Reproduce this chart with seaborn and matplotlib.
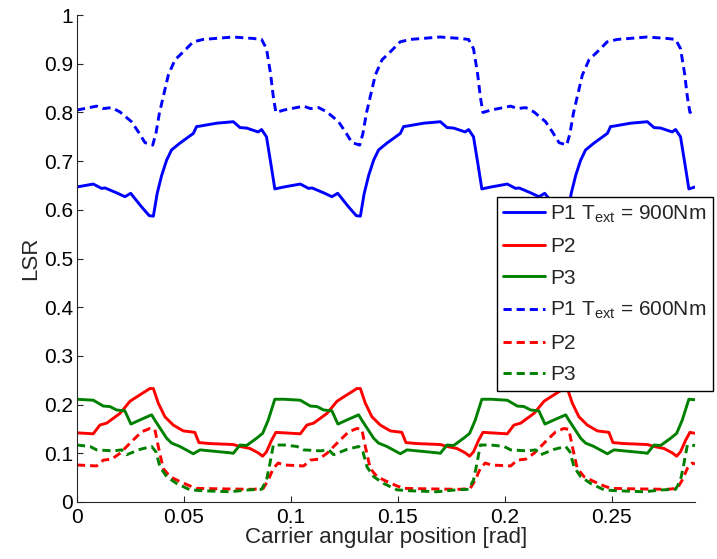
import matplotlib
matplotlib.use("Agg")
import matplotlib.pyplot as plt
import seaborn as sns
from matplotlib.ticker import FormatStrFormatter

# Load sharing ratio (LSR) of planets P1..P3 versus carrier angle, two torque levels
x_p1_900 = [0, .0076, .0115, .0131, .0185, .0224, .0251, .0302, .0338, .0357, .0375, .0396, .0419, .0442,
            .0481, .0544, .0559, .0575, .0653, .0731, .0762, .0793, .0847, .0863, .0886, .0910, .0925,
            .0968, .1044, .1083, .1099, .1153, .1192, .1219, .127, .1306, .1325, .1343, .1364, .1387, .141,
            .1449, .1512, .1527, .1543, .1621, .1699, .173, .1761, .1815, .1831, .1854, .1878, .1893,
            .1936, .2012, .2051, .2067, .2121, .216, .2187, .2238, .2274, .2293, .2311, .2332, .2355, .2378,
            .2417, .248, .2495, .2511, .2589, .2667, .2698, .2729, .2783, .2799, .2822, .2846, .2861, .289]
y_p1_900 = [.647, .653, .644, .645, .635, .627, .634, .606, .588, .587, .634, .671, .702, .723,
            .737, .757, .771, .772, .778, .781, .769, .768, .760, .765, .750, .685, .643,
            .647, .653, .644, .645, .635, .627, .634, .606, .588, .587, .634, .671, .702, .723,
            .737, .757, .771, .772, .778, .781, .769, .768, .760, .765, .750, .685, .643,
            .647, .653, .644, .645, .635, .627, .634, .606, .588, .587, .634, .671, .702, .723,
            .737, .757, .771, .772, .778, .781, .769, .768, .760, .765, .750, .685, .643, .647]

x_p2_900 = [0, .0076, .0107, .0139, .0201, .0248, .0294, .0341, .0357, .038, .0411, .045, .0497, .0551,
            .057, .0621, .0731, .0762, .0808, .0847, .0868, .0886, .091, .093,
            .0968, .1044, .1075, .1107, .1169, .1216, .1262, .1309, .1325, .1348, .1379, .1418, .1465, .1519,
            .1538, .1589, .1699, .173, .1776, .1815, .1836, .1854, .1878, .1898,
            .1936, .2012, .2043, .2075, .2137, .2184, .223, .2277, .2293, .2316, .2347, .2386, .2433, .2487,
            .2506, .2557, .2667, .2698, .2744, .2783, .2804, .2822, .2846, .2866, .289]
y_p2_900 = [.142, .140, .158, .162, .182, .207, .220, .233, .233, .203, .175, .158, .146, .143,
            .122, .120, .118, .114, .110, .101, .094, .103, .127, .143,
            .142, .140, .158, .162, .182, .207, .220, .233, .233, .203, .175, .158, .146, .143,
            .122, .120, .118, .114, .110, .101, .094, .103, .127, .143,
            .142, .140, .158, .162, .182, .207, .220, .233, .233, .203, .175, .158, .146, .143,
            .122, .120, .118, .114, .110, .101, .094, .103, .127, .143, .141]

x_p3_900 = [0, .0076, .0123, .0154, .0185, .0224, .0252, .0302, .0349, .0364, .0419, .0442, .0481, .0544,
            .0575, .0715, .0731, .0762, .0793, .084, .0868, .0894, .0925,
            .0968, .1044, .1091, .1122, .1153, .1192, .122, .127, .1317, .1332, .1387, .141, .1449, .1512,
            .1543, .1683, .1699, .173, .1761, .1808, .1836, .1862, .1893,
            .1936, .2012, .2059, .209, .2121, .216, .2188, .2238, .2285, .23, .2355, .2378, .2417, .248,
            .2511, .2651, .2667, .2698, .2729, .2776, .2804, .283, .2861, .289]
y_p3_900 = [.211, .209, .197, .196, .189, .187, .160, .170, .179, .168, .131, .121, .114, .099,
            .107, .101, .100, .117, .116, .131, .141, .168, .211,
            .211, .209, .197, .196, .189, .187, .160, .170, .179, .168, .131, .121, .114, .099,
            .107, .101, .100, .117, .116, .131, .141, .168, .211,
            .211, .209, .197, .196, .189, .187, .160, .170, .179, .168, .131, .121, .114, .099,
            .107, .101, .100, .117, .116, .131, .141, .168, .211, .210]

x_p1_600 = [0, .0092, .0123, .0162, .0201, .0255, .0287, .0318, .0354, .0369, .0385, .0403, .0427, .0458,
            .0505, .0543, .059, .073, .0824, .0863, .0886, .0905, .0918, .093,
            .0968, .106, .1091, .113, .1169, .1223, .1255, .1286, .1322, .1337, .1353, .1371, .1395, .1426,
            .1473, .1511, .1558, .1698, .1792, .1831, .1854, .1873, .1886, .1898,
            .1936, .2028, .2059, .2098, .2137, .2191, .2223, .2254, .229, .2305, .2321, .2339, .2363, .2394,
            .2441, .2479, .2526, .2666, .276, .2799, .2822, .2841, .2854, .2866, .289]
y_p1_600 = [.805, .813, .808, .810, .801, .781, .760, .738, .733, .757, .798, .832, .877, .908,
            .928, .945, .950, .955, .952, .950, .931, .880, .832, .800,
            .805, .813, .808, .810, .801, .781, .760, .738, .733, .757, .798, .832, .877, .908,
            .928, .945, .950, .955, .952, .950, .931, .880, .832, .800,
            .805, .813, .808, .810, .801, .781, .760, .738, .733, .757, .798, .832, .877, .908,
            .928, .945, .950, .955, .952, .950, .931, .880, .832, .800, .806]

x_p2_600 = [0, .0092, .0123, .0162, .0201, .0255, .0302, .0341, .0364, .038, .0403, .0435, .0481, .0528,
            .0559, .0668, .0824, .0871, .0894, .0918, .0941,
            .0968, .106, .1091, .113, .1169, .1223, .127, .1309, .1332, .1348, .1371, .1403, .1449, .1496,
            .1527, .1636, .1792, .1839, .1862, .1886, .1909,
            .1936, .2028, .2059, .2098, .2137, .2191, .2238, .2277, .23, .2316, .2339, .2371, .2417, .2464,
            .2495, .2604, .276, .2807, .283, .2854, .2877, .289]
y_p2_600 = [.076, .074, .086, .088, .100, .124, .144, .151, .149, .114, .069, .052, .042, .033,
            .028, .027, .026, .028, .045, .069, .080,
            .076, .074, .086, .088, .100, .124, .144, .151, .149, .114, .069, .052, .042, .033,
            .028, .027, .026, .028, .045, .069, .080,
            .076, .074, .086, .088, .100, .124, .144, .151, .149, .114, .069, .052, .042, .033,
            .028, .027, .026, .028, .045, .069, .080, .078]

x_p3_600 = [0, .0061, .0092, .017, .0209, .0232, .0294, .0349, .0369, .0388, .0419, .0466, .0528, .059,
            .0715, .0808, .0863, .0886, .0902, .0918,
            .0968, .1029, .106, .1138, .1177, .12, .1262, .1317, .1337, .1356, .1387, .1434, .1496, .1558,
            .1683, .1776, .1831, .1854, .187, .1886,
            .1936, .1997, .2028, .2106, .2145, .2168, .223, .2285, .2305, .2324, .2355, .2402, .2464, .2526,
            .2651, .2744, .2799, .2822, .2838, .2854, .289]
y_p3_600 = [.117, .114, .107, .105, .107, .097, .108, .114, .103, .072, .052, .038, .025, .023,
            .021, .025, .026, .045, .079, .117,
            .117, .114, .107, .105, .107, .097, .108, .114, .103, .072, .052, .038, .025, .023,
            .021, .025, .026, .045, .079, .117,
            .117, .114, .107, .105, .107, .097, .108, .114, .103, .072, .052, .038, .025, .023,
            .021, .025, .026, .045, .079, .117, .116]

labels = ["P1 T$_{\\rm ext}$ = 900Nm", "P2", "P3", "P1 T$_{\\rm ext}$ = 600Nm", "P2", "P3"]
x_ticks = [0, 0.05, 0.1, 0.15, 0.2, 0.25]
y_ticks = [0, 0.1, 0.2, 0.3, 0.4, 0.5, 0.6, 0.7, 0.8, 0.9, 1.0]

sns.set_style("ticks")
plt.rcParams["font.family"] = ["Liberation Sans", "DejaVu Sans"]
plt.rcParams["mathtext.fontset"] = "custom"
plt.rcParams["mathtext.rm"] = "Liberation Sans"
plt.rcParams["mathtext.it"] = "Liberation Sans:italic"
plt.rcParams["mathtext.bf"] = "Liberation Sans:bold"

FS = 15
LFS = 16

fig = plt.figure(figsize=(7.17, 5.59), dpi=100)
ax = fig.add_axes([0.1074, 0.102, 0.862, 0.871])

blue, red, green = "#0000ff", "#ff0000", "#008000"
dash = (0, (2.8, 1.7))
series = [
    (x_p1_900, y_p1_900, blue, "-"),
    (x_p2_900, y_p2_900, red, "-"),
    (x_p3_900, y_p3_900, green, "-"),
    (x_p1_600, y_p1_600, blue, dash),
    (x_p2_600, y_p2_600, red, dash),
    (x_p3_600, y_p3_600, green, dash),
]
for (xs, ys, col, ls), lab in zip(series, labels):
    sns.lineplot(x=xs, y=ys, ax=ax, color=col, linestyle=ls, linewidth=2.1,
                 estimator=None, sort=False, label=lab)

ax.set_xlim(0, 0.289)
ax.set_ylim(0, 1)
ax.set_xticks(x_ticks)
ax.set_yticks(y_ticks)
ax.xaxis.set_major_formatter(FormatStrFormatter("%g"))
ax.yaxis.set_major_formatter(FormatStrFormatter("%g"))
for side in ("top", "right"):
    ax.spines[side].set_visible(False)
for side in ("left", "bottom"):
    ax.spines[side].set_color("#262626")
    ax.spines[side].set_linewidth(0.8)
ax.tick_params(direction="in", length=4, width=0.8, color="#262626", labelsize=FS,
               labelcolor="black")
ax.tick_params(axis="x", pad=4)
ax.tick_params(axis="y", pad=3)
ax.set_xlabel("Carrier angular position [rad]", fontsize=LFS, labelpad=0)
ax.set_ylabel("LSR", fontsize=LFS, labelpad=2)

leg = ax.legend(loc="upper left", bbox_to_anchor=(497 / 717, 1 - 197 / 559),
                bbox_transform=fig.transFigure, fontsize=FS, frameon=True, fancybox=False,
                framealpha=1, edgecolor="black", handlelength=2.0, handletextpad=0.25,
                borderpad=0.3, labelspacing=0.6, borderaxespad=0)
leg.get_frame().set_linewidth(1.0)

fig.savefig("out.png", dpi=100)
